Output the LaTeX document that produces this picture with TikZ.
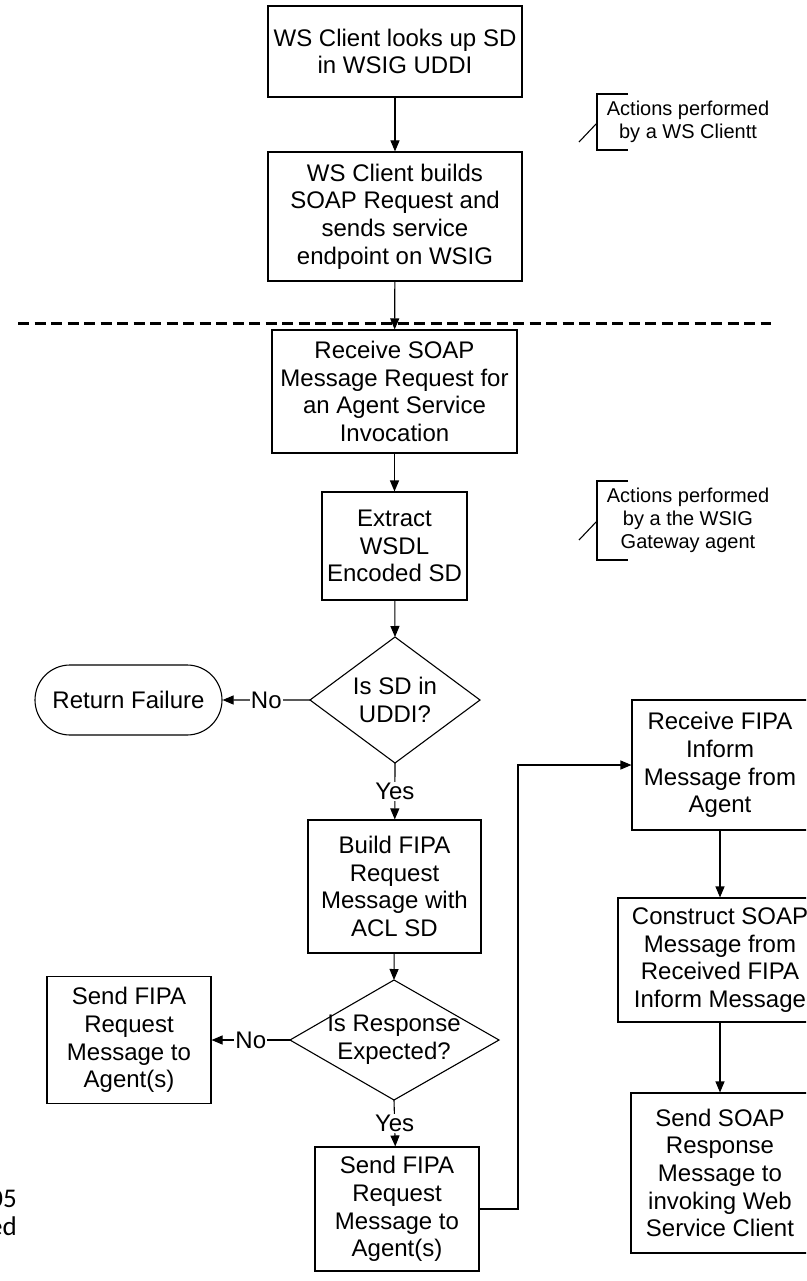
\documentclass[tikz,border=0pt]{standalone}
\usepackage{fontspec}
\setmainfont{Liberation Sans}
\newfontfamily\edgefont{Carlito}
\usetikzlibrary{arrows.meta,shapes.misc}

\begin{document}
\begin{tikzpicture}[x=1pt,y=-1pt,
  every node/.style={font=\fontsize{24}{27.6}\selectfont, align=center},
  box/.style={draw, line width=1.1pt, inner sep=0pt},
  terminal/.style={draw, line width=1.1pt, rounded rectangle, inner sep=0pt},
  flow/.style={line width=1.1pt, -{Triangle[length=11pt,width=9pt]}},
  plain/.style={line width=1.1pt},
  lab/.style={fill=white, inner sep=1pt},
  note/.style={font=\fontsize{20}{23}\selectfont},
  separator/.style={line width=3pt, dash pattern=on 11pt off 5.5pt},
  fragment/.style={anchor=base east, inner sep=0pt, font=\edgefont\fontsize{27}{28}\selectfont}
]
\useasboundingbox (0,0) rectangle (806,1281);
\clip (0,0) rectangle (806,1281);

% client side
\node[box, minimum width=254, minimum height=91] (look) at (395,51.5) {WS Client looks up SD\\in WSIG UDDI};
\node[box, minimum width=254, minimum height=129] (build) at (395,216.5) {WS Client builds\\SOAP Request and\\sends service\\endpoint on WSIG};

% separator between client and gateway
\coordinate (sepL) at (18,323);
\coordinate (sepR) at (771,323);
\draw[separator] (sepL) -- (sepR);

% gateway side
\node[box, minimum width=245, minimum height=123] (recv) at (394.5,391.5) {Receive SOAP\\Message Request for\\an Agent Service\\Invocation};
\node[box, minimum width=145, minimum height=108] (extract) at (394.5,546) {Extract\\WSDL\\Encoded SD};

% decision: SD in UDDI
\coordinate (d1n) at (395,637);
\coordinate (d1e) at (480,700);
\coordinate (d1s) at (395,763);
\coordinate (d1w) at (310,700);
\draw[plain] (d1n) -- (d1e) -- (d1s) -- (d1w) -- cycle;
\node (d1) at (395,700) {Is SD in\\UDDI?};

\node[terminal, minimum width=187, minimum height=70] (fail) at (128.5,700) {Return Failure};

\node[box, minimum width=173, minimum height=133] (fipa) at (394.5,886.5) {Build FIPA\\Request\\Message with\\ACL SD};

% decision: response expected
\coordinate (d2n) at (394,980);
\coordinate (d2e) at (499,1040);
\coordinate (d2s) at (394,1100);
\coordinate (d2w) at (290,1040);
\draw[plain] (d2n) -- (d2e) -- (d2s) -- (d2w) -- cycle;
\node (d2) at (394,1040) {Is Response\\Expected?};

\node[box, minimum width=164, minimum height=127] (sendL) at (129,1040) {Send FIPA\\Request\\Message to\\Agent(s)};
\node[box, minimum width=164, minimum height=124] (sendB) at (397,1209) {Send FIPA\\Request\\Message to\\Agent(s)};

% reply path
\node[box, minimum width=176, minimum height=130] (inform) at (720,765) {Receive FIPA\\Inform\\Message from\\Agent};
\node[box, minimum width=204, minimum height=124] (construct) at (720,960) {Construct SOAP\\Message from\\Received FIPA\\Inform Message};
\node[box, minimum width=178, minimum height=160] (reply) at (720,1173) {Send SOAP\\Response\\Message to\\invoking Web\\Service Client};

% connectors
\draw[flow] (look) -- (build);
\draw[flow] (build) -- (recv);
\draw[flow] (recv) -- (extract);
\draw[flow] (extract) -- (d1n);
\draw[flow] (d1w) -- node[lab]{No} (fail);
\draw[flow] (d1s) -- node[lab]{Yes} (fipa);
\draw[flow] (fipa) -- (d2n);
\draw[flow] (d2w) -- node[lab]{No} (sendL);
\draw[flow] (d2s) -- node[lab]{Yes} (sendB);
\coordinate (bend) at (518,765);
\draw[flow] (sendB.east) -| (bend) -- (inform.west);
\draw[flow] (inform) -- (construct);
\draw[flow] (construct) -- (reply);

% annotations
\node[note] (note1) at (688,121.5) {Actions performed\\by a WS Clientt};
\draw[plain] (628,94) -- (597,94) -- (597,150) -- (628,150);
\draw[plain] (579,142) -- (597,123);

\node[note] (note2) at (688,520.5) {Actions performed\\by a the WSIG\\Gateway agent};
\draw[plain] (628,481) -- (597,481) -- (597,560) -- (628,560);
\draw[plain] (579,540) -- (597,521);

% text running in from the left edge
\node[fragment] (frag1) at (17,1207) {05};
\node[fragment] (frag2) at (17,1235) {ed};
\end{tikzpicture}
\end{document}
